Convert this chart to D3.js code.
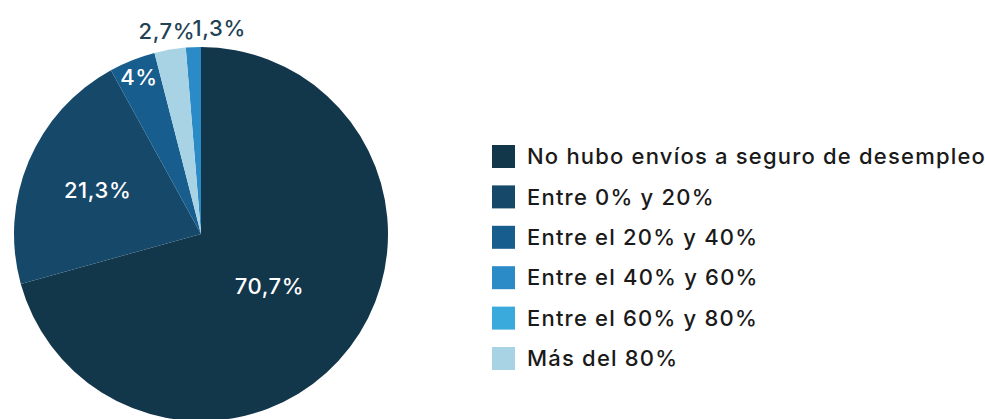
<!DOCTYPE html>
<html>
<head>
<meta charset="utf-8">
<script src="https://cdn.jsdelivr.net/npm/d3@7"></script>
<style>
  body { margin: 0; background: #fff; }
  svg { display: block; font-family: Inter, "Open Sans", sans-serif; }
</style>
</head>
<body>
<svg id="chart" width="985" height="419"></svg>
<script>
// categories and shares (%)
const categories = [
	"No hubo envíos a seguro de desempleo",
	"Entre 0% y 20%",
	"Entre el 20% y 40%",
	"Entre el 40% y 60%",
	"Entre el 60% y 80%",
	"Más del 80%"
];
const values = [70.7, 21.3, 4, 1.3, 0, 2.7];
const labels = ["70,7%", "21,3%", "4%", "1,3%", "", "2,7%"];
const colors = ["#12364a", "#16486a", "#175e8e", "#2a8bc6", "#3aaadc", "#a8d3e5"];

const data = categories.map((c, i) => ({ name: c, value: values[i], label: labels[i], i: i }));

const svg = d3.select("#chart");
const cx = 201, cy = 234, R = 187;

const color = d3.scaleOrdinal().domain(categories).range(colors);

// d3.pie sorts by value descending by default, like the original
const pie = d3.pie().value((d) => d.value);
const arcs = pie(data).filter((d) => d.data.value > 0);
const arc = d3.arc().innerRadius(0).outerRadius(R);

const g = svg.append("g").attr("transform", `translate(${cx},${cy})`);

g.selectAll("path")
	.data(arcs)
	.enter()
	.append("path")
	.attr("d", arc)
	.attr("fill", (d) => color(d.data.name));

// where each label sits, by slice size
const labelR = (v) => (v > 50 ? 0.46 * R : v > 10 ? 0.6 * R : v > 3.5 ? 0.9 * R : 1.1 * R);
const smallest = d3.min(arcs, (d) => d.data.value);

g.selectAll("text.lbl")
	.data(arcs)
	.enter()
	.append("text")
	.attr("class", "lbl")
	.attr("transform", (d) => {
		const r = labelR(d.data.value);
		const c = d3.arc().innerRadius(r).outerRadius(r).centroid(d);
		return `translate(${c[0]},${c[1]})`;
	})
	.attr("dy", "0.35em")
	.attr("text-anchor", (d) => (d.data.value == smallest ? "start" : "middle"))
	.attr("fill", (d) => (d.data.value > 3.5 ? "#ffffff" : "#1f4254"))
	.style("font-size", "22px")
	.style("font-weight", 500)
	.style("letter-spacing", "0.6px")
	.text((d) => d.data.label);

// legend
const legend = svg.append("g").attr("transform", "translate(492,145)");
const step = 40.4;
const item = legend
	.selectAll("g")
	.data(categories)
	.enter()
	.append("g")
	.attr("transform", (d, i) => `translate(0,${i * step})`);

item.append("rect").attr("width", 23).attr("height", 23).attr("fill", (d) => color(d));
item.append("text")
	.attr("x", 35)
	.attr("y", 11.5)
	.attr("dy", "0.35em")
	.attr("fill", "#1a1a1a")
	.style("font-size", "22px")
	.style("font-weight", 500)
	.style("letter-spacing", "1.2px")
	.text((d) => d);
</script>
</body>
</html>
